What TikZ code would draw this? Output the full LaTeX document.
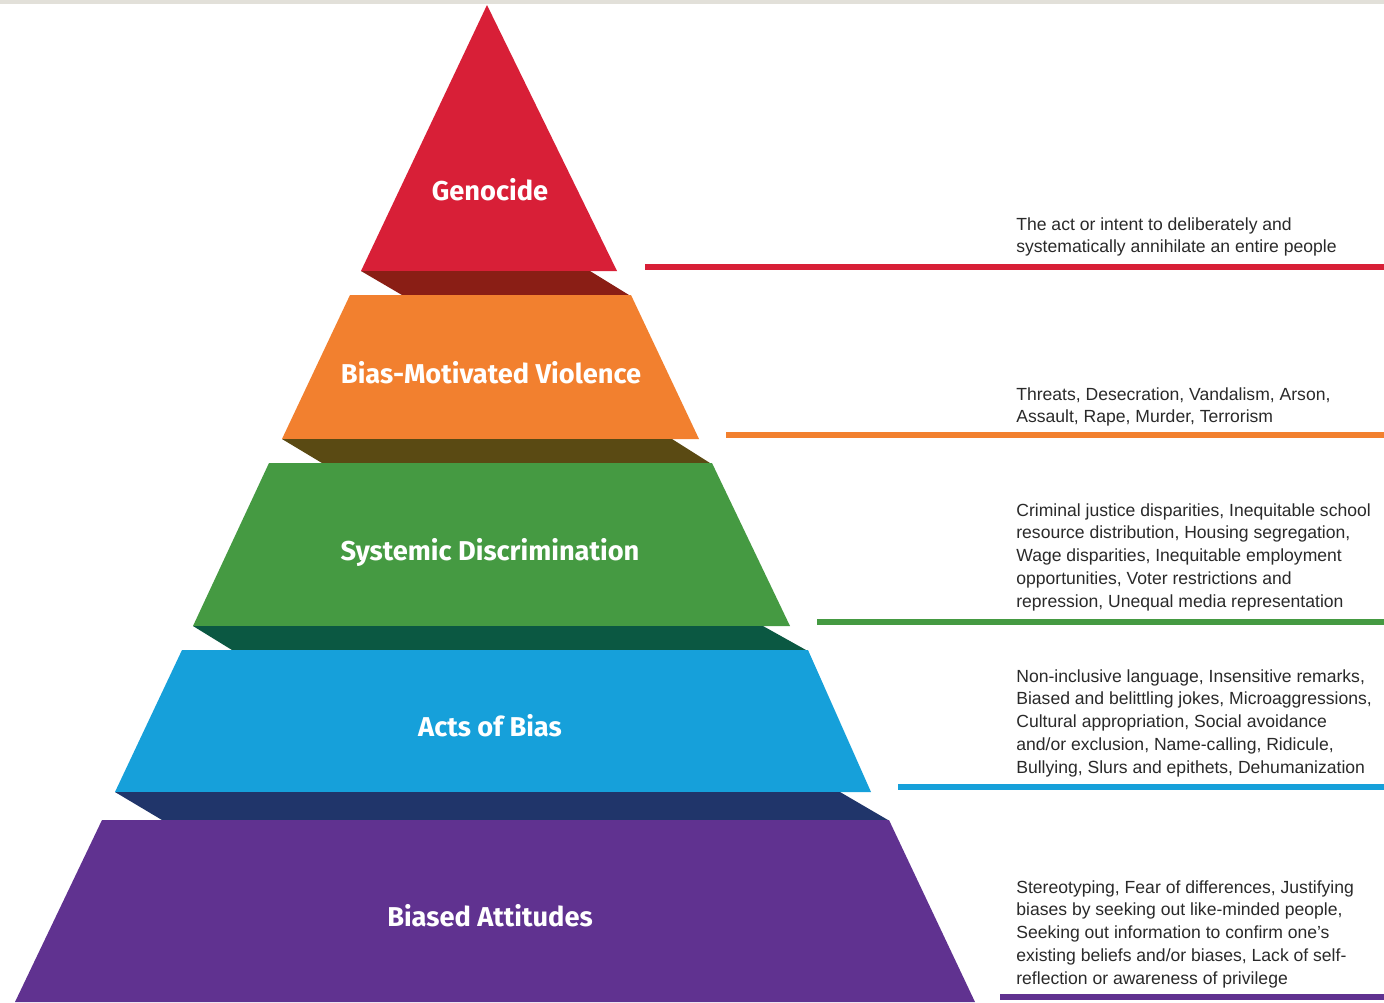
\documentclass[tikz,border=0pt]{standalone}
\usepackage{fontspec}
\setmainfont{Liberation Sans}
\newfontfamily\titlefont{Fira Sans}
\usepackage{tikz}
\usetikzlibrary{positioning}

\definecolor{topgrey}{HTML}{E2E0D9}
\definecolor{genred}{HTML}{D81F37}
\definecolor{genredDk}{HTML}{8A1E15}
\definecolor{violorange}{HTML}{F2802F}
\definecolor{violorangeDk}{HTML}{5A4A13}
\definecolor{sysgreen}{HTML}{459A42}
\definecolor{sysgreenDk}{HTML}{0B5842}
\definecolor{actblue}{HTML}{16A0DA}
\definecolor{actblueDk}{HTML}{20356A}
\definecolor{attpurple}{HTML}{603290}
\definecolor{desctext}{HTML}{2A2A2A}

\begin{document}
\begin{tikzpicture}[
			x=0.02cm, y=-0.02cm
			,lbl/.style={anchor=base, inner sep=0pt, text=white, font=\titlefont\bfseries\fontsize{15.5}{17}\selectfont}
			,desc/.style={anchor=north west, inner sep=0pt, align=left, text=desctext, font=\fontsize{10}{13}\selectfont}
			,rule/.style={line width=0.12cm}
		]
			\useasboundingbox (0,0) rectangle (1384,1002);
			\fill[white] (0,0) rectangle (1384,1002);
			\fill[topgrey] (0,0) rectangle (1384,4);

			% pyramid levels and their shadows
			\fill[genred] (487,5) -- (617,271) -- (361,271) -- cycle;
			\fill[genredDk] (361,271) -- (590,271) -- (629,295) -- (402,295) -- cycle;
			\fill[violorange] (350,295) -- (631,295) -- (699,439) -- (282,439) -- cycle;
			\fill[violorangeDk] (282,439) -- (672,439) -- (710,463) -- (322,463) -- cycle;
			\fill[sysgreen] (269,463) -- (712,463) -- (790,626) -- (193,626) -- cycle;
			\fill[sysgreenDk] (193,626) -- (763,626) -- (806,650) -- (232,650) -- cycle;
			\fill[actblue] (182,650) -- (808,650) -- (871,792) -- (115,792) -- cycle;
			\fill[actblueDk] (115,792) -- (840,792) -- (888,820) -- (162,820) -- cycle;
			\fill[attpurple] (102,820) -- (889,820) -- (975,1002) -- (15,1002) -- cycle;

			\node [lbl] (genocide) at (490,200) {Genocide};
			\node [lbl] (violence) at (491,383) {Bias-Motivated Violence};
			\node [lbl] (discrim) at (490,560) {Systemic Discrimination};
			\node [lbl] (acts) at (490,736) {Acts of Bias};
			\node [lbl] (attitudes) at (490,926) {Biased Attitudes};

			% rules to the right
			\coordinate (genL) at (645,267);
			\coordinate (genR) at (1384,267);
			\coordinate (violL) at (726,435);
			\coordinate (violR) at (1384,435);
			\coordinate (sysL) at (817,622);
			\coordinate (sysR) at (1384,622);
			\coordinate (actL) at (898,787);
			\coordinate (actR) at (1384,787);
			\coordinate (attL) at (1000,997);
			\coordinate (attR) at (1384,997);
			\draw[rule, genred] (genL) -- (genR);
			\draw[rule, violorange] (violL) -- (violR);
			\draw[rule, sysgreen] (sysL) -- (sysR);
			\draw[rule, actblue] (actL) -- (actR);
			\draw[rule, attpurple] (attL) -- (attR);

			\node [desc] (genText) at (1016,217) {The act or intent to deliberately and\\systematically annihilate an entire people};
			\node [desc] (violText) at (1016,387) {Threats, Desecration, Vandalism, Arson,\\Assault, Rape, Murder, Terrorism};
			\node [desc] (sysText) at (1016,503) {Criminal justice disparities, Inequitable school\\resource distribution, Housing segregation,\\Wage disparities, Inequitable employment\\opportunities, Voter restrictions and\\repression, Unequal media representation};
			\node [desc] (actText) at (1016,669) {Non-inclusive language, Insensitive remarks,\\Biased and belittling jokes, Microaggressions,\\Cultural appropriation, Social avoidance\\and/or exclusion, Name-calling, Ridicule,\\Bullying, Slurs and epithets, Dehumanization};
			\node [desc] (attText) at (1016,880) {Stereotyping, Fear of differences, Justifying\\biases by seeking out like-minded people,\\Seeking out information to confirm one's\\existing beliefs and/or biases, Lack of self-\\reflection or awareness of privilege};
		\end{tikzpicture}
\end{document}
